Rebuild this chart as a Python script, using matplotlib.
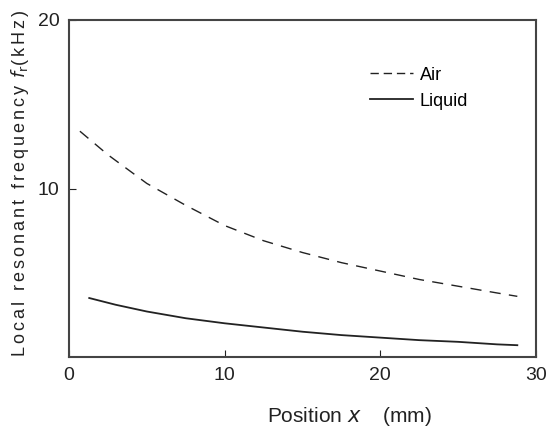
import matplotlib
matplotlib.use("Agg")
import matplotlib.pyplot as plt
from matplotlib.lines import Line2D

plt.rcParams['font.family'] = ['Liberation Sans', 'DejaVu Sans']

# values
x_air = [0.7, 2.5, 5, 7.5, 10, 12.5, 15, 17.5, 20, 22.5, 25, 27.5, 28.8]
f_air = [13.4, 12.0, 10.3, 9.0, 7.8, 6.9, 6.2, 5.6, 5.1, 4.6, 4.2, 3.8, 3.6]
x_liq = [1.3, 3, 5, 7.5, 10, 12.5, 15, 17.5, 20, 22.5, 25, 27.5, 28.8]
f_liq = [3.5, 3.1, 2.7, 2.3, 2.0, 1.75, 1.5, 1.3, 1.15, 1.0, 0.9, 0.75, 0.7]


def spaced(s, gap='\u200a\u200a'):
    # the original lettering is widely spaced
    return gap.join(s)


fig = plt.figure(figsize=(5.49, 4.32), dpi=100)
ax = fig.add_axes([69/549, 1 - 357/432, (536 - 69)/549, (357 - 20)/432])

c = '#222222'
ax.plot(x_air, f_air, color=c, lw=1.0, ls=(0, (8, 6)))
ax.plot(x_liq, f_liq, color=c, lw=1.3)

ax.set_xlim(0, 30)
ax.set_ylim(0, 20)
ax.set_xticks([0, 10, 20, 30])
ax.set_yticks([10, 20])
ax.tick_params(direction='in', length=5, width=0.8, labelsize=14, colors=c, pad=7)
for s in ax.spines.values():
    s.set_linewidth(1.5)
    s.set_color('#444444')

fig.text(349/549, 1 - 417/432, 'Position $x$    (mm)', fontsize=15, color=c,
         ha='center', va='center')
fig.text(20/549, 1 - 183/432,
         spaced('Local resonant frequency ') + r'$f_{\rm r}$' + spaced('(kHz)'),
         fontsize=13, color=c, rotation=90, ha='center', va='center')

handles = [Line2D([], [], color=c, lw=1.0, ls=(0, (6, 3.5))),
           Line2D([], [], color=c, lw=1.3)]
ax.legend(handles, ['Air', 'Liquid'], loc='upper left', bbox_to_anchor=(0.61, 0.91),
          frameon=False, fontsize=13, handlelength=2.4, handletextpad=0.35,
          labelspacing=0.5)

fig.savefig('out.png', dpi=100)
